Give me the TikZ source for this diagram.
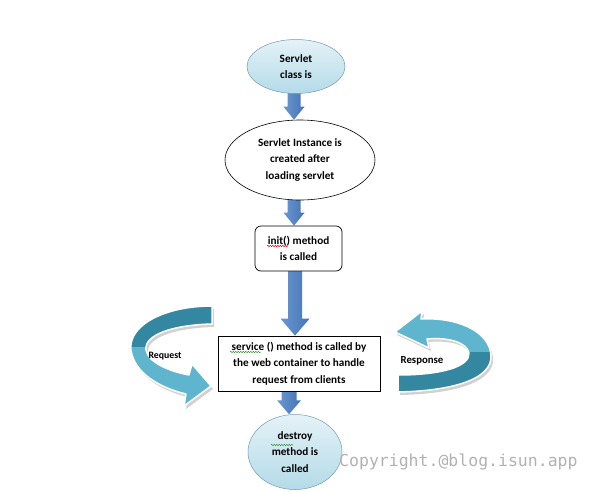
\documentclass[tikz,border=0pt]{standalone}
\usepackage{fontspec}
\setmainfont{Carlito}
\newfontfamily\wmfont{DejaVu Sans Mono}
\usetikzlibrary{shapes.geometric,decorations.pathmorphing,calc}
\pgfdeclarelayer{bg}
\pgfsetlayers{bg,main}
\definecolor{arrowL}{RGB}{108,152,208}
\definecolor{arrowR}{RGB}{68,116,182}
\definecolor{tealL}{RGB}{95,180,206}
\definecolor{tealD}{RGB}{52,135,160}
\definecolor{ellTop}{RGB}{228,242,247}
\definecolor{ellBot}{RGB}{180,219,232}
\definecolor{ellLine}{RGB}{115,155,178}
\definecolor{squigG}{RGB}{60,150,60}
\tikzset{
  lbl/.style={font=\fontsize{11.2}{16.5}\selectfont\bfseries, align=center, inner sep=0pt},
  blueell/.style={lbl, ellipse, draw=ellLine, line width=0.5pt, top color=ellTop, bottom color=ellBot},
  plainell/.style={lbl, ellipse, draw=black, line width=0.6pt, fill=white},
  stepbox/.style={lbl, rectangle, draw=black, line width=0.7pt, fill=white},
  blockarrow/.style={left color=arrowL, right color=arrowR, draw=none},
  curvelbl/.style={font=\bfseries, inner sep=0pt},
  squig/.style={line width=0.5pt, decorate, decoration={snake, amplitude=0.7pt, segment length=2.5pt}},
}
% #1 from node, #2 to node, #3 x (pt), #4 half shaft, #5 half head, #6 head length
\newcommand\blockarrow[6]{%
  \shade[blockarrow] let \p1=(#1.south), \p2=(#2.north) in
    (#3pt-#4pt,\y1+4pt) -- (#3pt+#4pt,\y1+4pt) -- (#3pt+#4pt,\y2+#6pt) -- (#3pt+#5pt,\y2+#6pt)
    -- (#3pt,\y2) -- (#3pt-#5pt,\y2+#6pt) -- (#3pt-#4pt,\y2+#6pt) -- cycle;}
\def\reqpath{(212,306) .. controls (165,306) and (128,325) .. (131,350)
  .. controls (134,373) and (160,388) .. (186,394) -- (184,406) -- (211,386) -- (192,364)
  -- (189,375) .. controls (168,371) and (148,362) .. (146,350)
  .. controls (144,335) and (172,325) .. (212,324) -- cycle}
\def\resppath{(395,332) -- (422,311) -- (421,319) .. controls (455,317) and (489,330) .. (491,355)
  .. controls (493,380) and (450,391) .. (398,392) -- (398,375)
  .. controls (440,375) and (470,367) .. (469,353)
  .. controls (467,343) and (450,337) .. (427,339) -- (429,348) -- cycle}
\begin{document}
\begin{tikzpicture}[x=1pt,y=-1pt]
\useasboundingbox (0,0) rectangle (598,491);
\begin{pgfonlayer}{bg}
\fill[white] (0,0) rectangle (598,491);
\end{pgfonlayer}

\node[blueell, minimum width=98pt, minimum height=54pt] (cls) at (296,66.5) {Servlet\\class is};
\node[plainell, minimum width=150pt, minimum height=80pt] (inst) at (300,160) {Servlet Instance is\\created after\\loading servlet};
\node[stepbox, rounded corners=6pt, minimum width=87pt, minimum height=45pt] (init) at (298.5,248.5) {init() method\\is called};
\node[stepbox, minimum width=162pt, minimum height=55pt] (svc) at (299,363.5) {service () method is called by\\the web container to handle\\request from clients};
\node[blueell, minimum width=94pt, minimum height=75pt] (dest) at (295,452) {destroy\\method is\\called};

\begin{pgfonlayer}{bg}
\blockarrow{cls}{inst}{294}{6.5}{10.5}{13}
\blockarrow{inst}{init}{294}{6.5}{10.5}{13}
\blockarrow{init}{svc}{295}{7}{14.5}{17}
\blockarrow{svc}{dest}{289}{7.5}{12}{14}
\end{pgfonlayer}

% Request curved arrow
\begin{scope}[shift={(2,3)}]
  \fill[black, opacity=0.18] \reqpath;
\end{scope}
\fill[tealL] \reqpath;
\begin{scope}
  \clip (0,0) rectangle (598,346);
  \fill[tealD] \reqpath;
\end{scope}
\draw[white, line width=1.5pt, line join=round] \reqpath;

% Response curved arrow
\begin{scope}[shift={(2,3)}]
  \fill[black, opacity=0.18] \resppath;
\end{scope}
\fill[tealL] \resppath;
\begin{scope}
  \clip (0,352) rectangle (598,491);
  \fill[tealD] \resppath;
\end{scope}
\draw[white, line width=1.5pt, line join=round] \resppath;

\node[curvelbl, font=\fontsize{9.8}{11}\selectfont\bfseries] (req) at (165,356) {Request};
\node[curvelbl, font=\fontsize{10.8}{12}\selectfont\bfseries] (resp) at (422,361) {Response};

% spell-check squiggles
\draw[red, squig] (267,246) -- (288,246);
\draw[squigG, squig] (230,352) -- (261,352);
\draw[squigG, squig] (271,445) -- (293,445);

\node[anchor=west, font=\wmfont\fontsize{16.5}{18}\selectfont, text=black!30, inner sep=0pt] (wm) at (339,462) {Copyright.@blog.isun.app};
\end{tikzpicture}
\end{document}
